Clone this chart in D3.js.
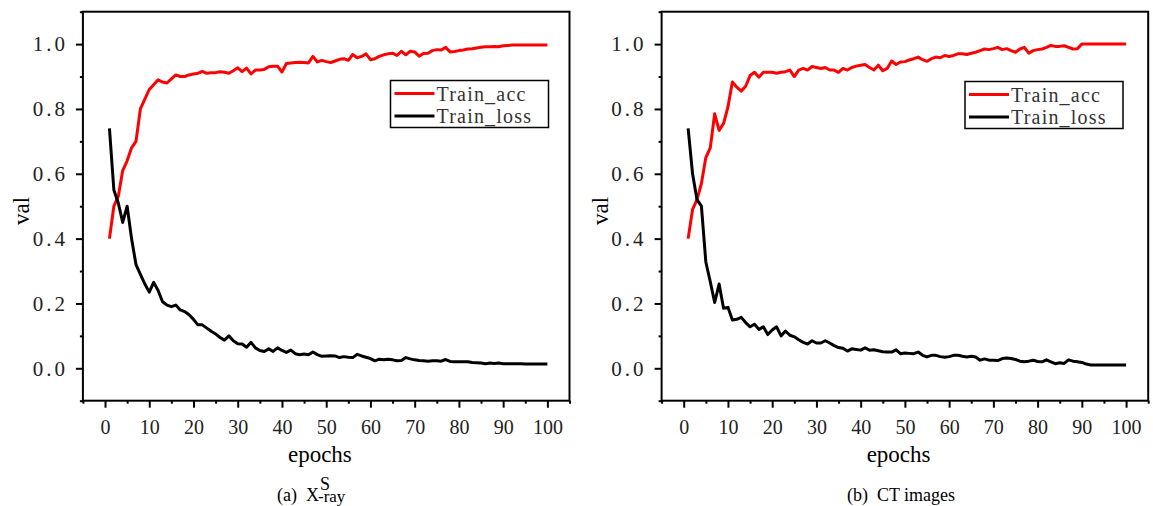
<!DOCTYPE html>
<html>
<head>
<meta charset="utf-8">
<script src="https://cdn.jsdelivr.net/npm/d3@7"></script>
<style>
  body { margin: 0; background: #fff; }
  svg { display: block; }
  text { font-family: "Liberation Serif", "Times New Roman", Tinos, "DejaVu Serif", serif; }
</style>
</head>
<body>
<svg id="chart" width="1153" height="506"></svg>
<script>
// epochs on the x axis
var epochs = d3.range(1, 101);

// (a) X-ray training curves
var xrayAcc = [0.40, 0.50, 0.53, 0.61, 0.64, 0.68, 0.70, 0.80, 0.83, 0.86,
    0.875, 0.89, 0.883, 0.88, 0.893, 0.905, 0.90, 0.90, 0.905, 0.908,
    0.91, 0.916, 0.91, 0.912, 0.912, 0.915, 0.913, 0.91, 0.918, 0.927,
    0.915, 0.926, 0.908, 0.92, 0.92, 0.922, 0.93, 0.932, 0.932, 0.914,
    0.94, 0.942, 0.943, 0.944, 0.943, 0.942, 0.962, 0.945, 0.95, 0.946,
    0.943, 0.948, 0.953, 0.955, 0.95, 0.968, 0.958, 0.962, 0.97, 0.952,
    0.955, 0.962, 0.967, 0.97, 0.972, 0.965, 0.978, 0.967, 0.978, 0.976,
    0.963, 0.971, 0.972, 0.98, 0.983, 0.982, 0.99, 0.976, 0.977, 0.98,
    0.982, 0.985, 0.986, 0.988, 0.99, 0.992, 0.992, 0.993, 0.992, 0.995,
    0.996, 0.997, 0.997, 0.997, 0.997, 0.997, 0.997, 0.997, 0.997, 0.997];
var xrayLoss = [0.74, 0.55, 0.51, 0.45, 0.50, 0.40, 0.32, 0.29, 0.26, 0.235,
    0.265, 0.24, 0.205, 0.195, 0.19, 0.195, 0.18, 0.175, 0.165, 0.151,
    0.134, 0.134, 0.124, 0.114, 0.106, 0.095, 0.087, 0.10, 0.085, 0.076,
    0.075, 0.065, 0.08, 0.063, 0.055, 0.052, 0.06, 0.052, 0.063, 0.055,
    0.049, 0.056, 0.045, 0.042, 0.044, 0.042, 0.05, 0.042, 0.037, 0.038,
    0.039, 0.038, 0.033, 0.036, 0.034, 0.033, 0.043, 0.038, 0.034, 0.03,
    0.023, 0.028, 0.026, 0.028, 0.026, 0.023, 0.024, 0.033, 0.029, 0.026,
    0.024, 0.023, 0.022, 0.023, 0.023, 0.022, 0.027, 0.021, 0.02, 0.02,
    0.02, 0.02, 0.018, 0.017, 0.016, 0.014, 0.016, 0.015, 0.016, 0.014,
    0.014, 0.014, 0.014, 0.014, 0.013, 0.013, 0.013, 0.013, 0.013, 0.013];

// (b) CT images training curves
var ctAcc = [0.40, 0.49, 0.52, 0.57, 0.65, 0.68, 0.785, 0.734, 0.755, 0.806,
    0.883, 0.867, 0.855, 0.87, 0.903, 0.913, 0.898, 0.913, 0.913, 0.913,
    0.91, 0.913, 0.915, 0.92, 0.90, 0.92, 0.925, 0.92, 0.931, 0.928,
    0.925, 0.928, 0.92, 0.92, 0.913, 0.925, 0.92, 0.928, 0.932, 0.935,
    0.937, 0.928, 0.92, 0.935, 0.918, 0.925, 0.948, 0.937, 0.945, 0.946,
    0.951, 0.955, 0.96, 0.952, 0.947, 0.955, 0.96, 0.958, 0.965, 0.962,
    0.965, 0.97, 0.97, 0.968, 0.972, 0.975, 0.98, 0.985, 0.983, 0.986,
    0.99, 0.983, 0.986, 0.98, 0.975, 0.985, 0.99, 0.972, 0.98, 0.983,
    0.985, 0.99, 0.996, 0.993, 0.993, 0.995, 0.99, 0.985, 0.986, 1.0,
    1.0, 1.0, 1.0, 1.0, 1.0, 1.0, 1.0, 1.0, 1.0, 1.0];
var ctLoss = [0.74, 0.60, 0.52, 0.50, 0.328, 0.267, 0.203, 0.26, 0.185, 0.188,
    0.149, 0.151, 0.157, 0.141, 0.128, 0.136, 0.12, 0.128, 0.104, 0.118,
    0.128, 0.10, 0.115, 0.102, 0.097, 0.088, 0.08, 0.075, 0.085, 0.078,
    0.078, 0.085, 0.078, 0.07, 0.064, 0.062, 0.053, 0.06, 0.058, 0.056,
    0.063, 0.056, 0.057, 0.054, 0.051, 0.05, 0.05, 0.057, 0.045, 0.047,
    0.046, 0.045, 0.05, 0.04, 0.035, 0.04, 0.04, 0.036, 0.034, 0.036,
    0.04, 0.04, 0.037, 0.035, 0.037, 0.035, 0.025, 0.029, 0.025, 0.025,
    0.024, 0.03, 0.032, 0.03, 0.027, 0.022, 0.02, 0.022, 0.025, 0.021,
    0.02, 0.026, 0.02, 0.014, 0.017, 0.015, 0.026, 0.022, 0.02, 0.018,
    0.013, 0.01, 0.01, 0.01, 0.01, 0.01, 0.01, 0.01, 0.01, 0.01];

// tick values and labels
var xMajorTicks = [0, 10, 20, 30, 40, 50, 60, 70, 80, 90, 100];
var xMinorTicks = [-5, 5, 15, 25, 35, 45, 55, 65, 75, 85, 95, 105];
var yMajorTicks = [0.0, 0.2, 0.4, 0.6, 0.8, 1.0];
var yMinorTicks = [-0.1, 0.1, 0.3, 0.5, 0.7, 0.9, 1.1];
var seriesNames = ["Train_acc", "Train_loss"];
var seriesColors = ["#ff0000", "#000000"];

var serif = "'Liberation Serif', 'Times New Roman', Tinos, 'DejaVu Serif', serif";
var svg = d3.select("#chart");

/**
 * Draws one panel: frame, axes, the two curves, legend and caption
 */
function drawPanel(cfg)
{
    var x = d3.scaleLinear().domain([-5, 105]).range([cfg.left, cfg.left + 486.6]);
    var y = d3.scaleLinear().domain([-0.1, 1.1]).range([400.7, 11.7]);

    var g = svg.append("g");

    // frame
    g.append("rect")
        .attr("x", x(-5)).attr("y", y(1.1))
        .attr("width", x(105) - x(-5)).attr("height", y(-0.1) - y(1.1))
        .style("fill", "none").style("stroke", "#000").style("stroke-width", 2);

    // y axis, major and minor ticks
    var yMajor = g.append("g")
        .attr("transform", "translate(" + x(-5) + ",0)")
        .call(d3.axisLeft(y).tickValues(yMajorTicks).tickSize(7).tickPadding(8)
            .tickFormat(d3.format(".1f")));
    var yMinor = g.append("g")
        .attr("transform", "translate(" + x(-5) + ",0)")
        .call(d3.axisLeft(y).tickValues(yMinorTicks).tickSize(3).tickFormat(""));

    // x axis, major and minor ticks
    var xMajor = g.append("g")
        .attr("transform", "translate(0," + y(-0.1) + ")")
        .call(d3.axisBottom(x).tickValues(xMajorTicks).tickSize(7).tickPadding(12));
    var xMinor = g.append("g")
        .attr("transform", "translate(0," + y(-0.1) + ")")
        .call(d3.axisBottom(x).tickValues(xMinorTicks).tickSize(3).tickFormat(""));

    [yMajor, yMinor, xMajor, xMinor].forEach(function(a) {
        a.attr("font-family", null);
        a.select(".domain").remove();
        a.selectAll(".tick line").style("stroke", "#000").style("stroke-width", 2);
    });
    yMajor.selectAll(".tick text")
        .style("font-family", serif)
        .style("font-size", "21px")
        .style("letter-spacing", "3px")
        .style("fill", "#222");
    xMajor.selectAll(".tick text")
        .style("font-family", serif)
        .style("font-size", "20px")
        .style("fill", "#222");

    // axis titles
    g.append("text")
        .attr("x", cfg.left + 237).attr("y", 462)
        .attr("text-anchor", "middle")
        .style("font-family", serif).style("font-size", "23px")
        .text("epochs");
    g.append("text")
        .attr("transform", "translate(" + (cfg.left - 54) + ",211) rotate(-90)")
        .attr("text-anchor", "middle")
        .style("font-family", serif).style("font-size", "23px")
        .text("val");

    // curves
    var line = d3.line()
        .x(function(d, i) { return x(epochs[i]); })
        .y(function(d) { return y(d); });
    [cfg.acc, cfg.loss].forEach(function(series, k) {
        g.append("path")
            .attr("d", line(series))
            .style("fill", "none")
            .style("stroke", seriesColors[k])
            .style("stroke-width", 3)
            .style("stroke-linejoin", "round");
    });

    // legend
    var lg = g.append("g").attr("transform", "translate(" + cfg.legendX + "," + cfg.legendY + ")");
    lg.append("rect")
        .attr("width", 158).attr("height", 47)
        .style("fill", "#fff").style("stroke", "#000").style("stroke-width", 1.5);
    seriesNames.forEach(function(name, k) {
        lg.append("line")
            .attr("x1", 4).attr("x2", 44)
            .attr("y1", 13 + k * 22.5).attr("y2", 13 + k * 22.5)
            .style("stroke", seriesColors[k]).style("stroke-width", 3);
        lg.append("text")
            .attr("x", 46).attr("y", 20 + k * 22.5)
            .style("font-family", serif)
            .style("font-size", "20px")
            .style("letter-spacing", "1.2px")
            .style("fill", "#333")
            .text(name);
    });

    cfg.caption(g);
}

drawPanel({
    left: 82.9, acc: xrayAcc, loss: xrayLoss, legendX: 390.5, legendY: 80.5,
    caption: function(g) {
        var t = g.append("text")
            .attr("x", 277).attr("y", 501)
            .style("font-family", serif).style("font-size", "18px");
        var main = t.append("tspan").text("(a)\u00a0\u00a0X");
        var w = main.node().getComputedTextLength();
        t.append("tspan").attr("x", 277 + w + 1).attr("dy", -11).text("S");
        t.append("tspan").attr("x", 277 + w - 1).attr("dy", 12).style("font-size", "17px").text("-ray");
    }
});

drawPanel({
    left: 661.6, acc: ctAcc, loss: ctLoss, legendX: 965, legendY: 81.5,
    caption: function(g) {
        g.append("text")
            .attr("x", 901).attr("y", 501)
            .attr("text-anchor", "middle")
            .style("font-family", serif).style("font-size", "18px")
            .text("(b)\u00a0\u00a0CT images");
    }
});
</script>
</body>
</html>
